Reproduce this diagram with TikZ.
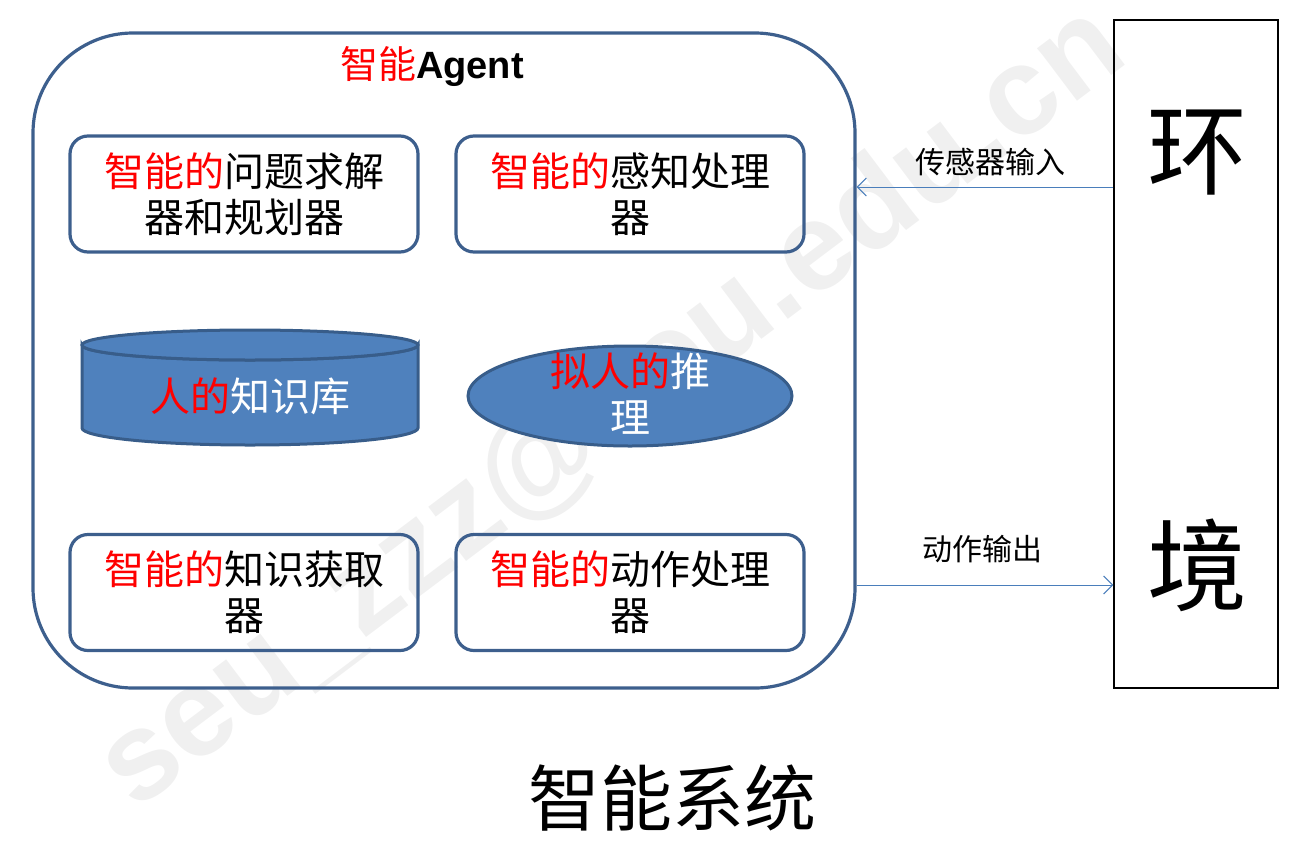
\documentclass[tikz,border=0pt]{standalone}
\usepackage{fontspec}
\setmainfont{Noto Sans CJK SC}
\newfontfamily\latinbold{Liberation Sans}
\usetikzlibrary{arrows.meta}
\definecolor{edgeblue}{HTML}{3D5F8D}
\definecolor{fillblue}{HTML}{4F81BD}
\definecolor{darkedge}{HTML}{385D8A}
\definecolor{arrowblue}{HTML}{4A7EBB}
\definecolor{wmgray}{HTML}{F0F0F0}
\tikzset{
  unitbox/.style={draw=edgeblue, line width=3.2pt, rounded corners=18pt, minimum width=348pt, minimum height=116pt, inner sep=0pt, align=center, font=\fontsize{40}{46}\selectfont},
  blueshape/.style={fill=fillblue, draw=darkedge, line width=3pt},
  flow/.style={draw=arrowblue, line width=1pt, -{Straight Barb[length=9pt,width=18pt]}},
  flowlabel/.style={font=\fontsize{30}{34}\selectfont},
  hot/.style={text=red}
}
\begin{document}
\begin{tikzpicture}[x=1pt,y=-1pt]
\useasboundingbox (0,0) rectangle (1312,852);
% watermark
\node[text=wmgray, rotate=37, font=\latinbold\bfseries\fontsize{125}{125}\selectfont] (wm) at (612,408) {seu\_zzz@seu.edu.cn};
% agent container
\node[draw=edgeblue, line width=3.2pt, rounded corners=100pt, minimum width=822pt, minimum height=655pt, inner sep=0pt] (agent) at (444,360.5) {};
\node[font=\fontsize{38}{42}\selectfont] (title) at (432,67) {{\color{red}智能}{\latinbold\bfseries Agent}};
% boxes
\node[unitbox] (solver) at (244,194) {{\color{red}智能的}问题求解\\器和规划器};
\node[unitbox] (percept) at (630,194) {{\color{red}智能的}感知处理\\器};
\node[unitbox] (acquire) at (244,592.5) {{\color{red}智能的}知识获取\\器};
\node[unitbox] (action) at (630,592.5) {{\color{red}智能的}动作处理\\器};
% cylinder knowledge base
\path[blueshape] (82,345) -- (82,428) arc[start angle=180, end angle=0, x radius=168, y radius=17] -- (418,345) arc[start angle=0, end angle=180, x radius=168, y radius=15] -- cycle;
\draw[blueshape] (250,345) ellipse[x radius=168, y radius=15];
\node[font=\fontsize{40}{46}\selectfont, text=white] (kb) at (250,396) {{\color{red}人的}知识库};
% ellipse reasoning
\draw[blueshape] (630,396) ellipse[x radius=162, y radius=50];
\node[font=\fontsize{40}{46}\selectfont, text=white, align=center] (reason) at (630,394) {{\color{red}拟人的}推\\理};
% environment
\node[draw=black, line width=1.5pt, minimum width=164pt, minimum height=668pt, inner sep=0pt] (env) at (1196,354) {};
\node[font=\fontsize{100}{100}\selectfont] (huan) at (1197,153) {环};
\node[font=\fontsize{100}{100}\selectfont] (jing) at (1197,565) {境};
% connectors
\coordinate (inrow) at (0,187);
\coordinate (outrow) at (0,585);
\draw[flow] (env.west |- inrow) -- (agent.east |- inrow);
\draw[flow] (agent.east |- outrow) -- (env.west |- outrow);
\node[flowlabel] (inlab) at (990,162) {传感器输入};
\node[flowlabel] (outlab) at (982,549) {动作输出};
% caption
\node[font=\fontsize{72}{76}\selectfont] (caption) at (672,798) {智能系统};
\end{tikzpicture}
\end{document}
